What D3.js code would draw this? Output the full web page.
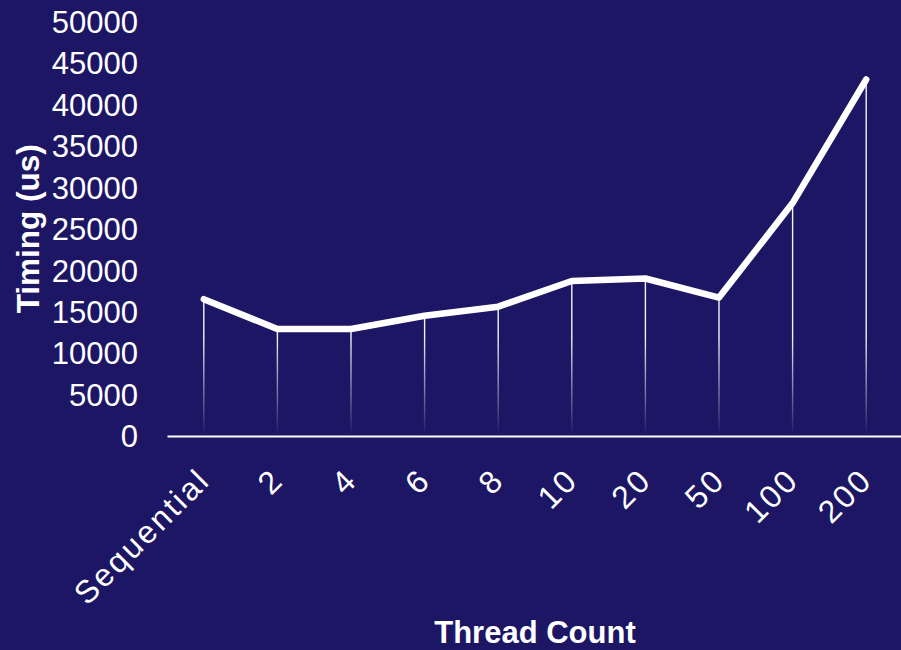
<!DOCTYPE html>
<html>
<head>
<meta charset="utf-8">
<script src="https://cdn.jsdelivr.net/npm/d3@7"></script>
<style>
  html, body { margin: 0; padding: 0; background: #1c1664; }
  svg { display: block; }
  text { font-family: "Liberation Sans", Arial, sans-serif; fill: #ffffff; }
</style>
</head>
<body>
<svg id="chart" width="901" height="650"></svg>
<script>
const categories = ["Sequential", "2", "4", "6", "8", "10", "20", "50", "100", "200"];
const timings = [16500, 12900, 12900, 14500, 15600, 18700, 19000, 16700, 28100, 43000];
const yTicks = [0, 5000, 10000, 15000, 20000, 25000, 30000, 35000, 40000, 45000, 50000];
const xTitle = "Thread Count";
const yTitle = "Timing (us)";

const W = 901, H = 650;
const svg = d3.select("#chart");
svg.append("rect").attr("width", W).attr("height", H).attr("fill", "#1c1664");

const x = d3.scaleBand().domain(categories).range([167, 903]).padding(0);
const y = d3.scaleLinear().domain([0, 50000]).range([436, 21.5]);

const defs = svg.append("defs");
const grad = defs.append("linearGradient")
  .attr("id", "dropGrad")
  .attr("gradientUnits", "userSpaceOnUse")
  .attr("x1", 0).attr("x2", 0)
  .attr("y1", y(0)).attr("y2", y(12000));
grad.append("stop").attr("offset", 0).attr("stop-color", "#ffffff").attr("stop-opacity", 0);
grad.append("stop").attr("offset", 1).attr("stop-color", "#ffffff").attr("stop-opacity", 0.95);

const data = categories.map((c, i) => ({ c, v: timings[i] }));
const cx = d => x(d.c) + x.bandwidth() / 2;

// drop lines
svg.append("g").selectAll("line").data(data).join("line")
  .attr("x1", cx).attr("x2", cx)
  .attr("y1", d => y(d.v)).attr("y2", y(0))
  .attr("stroke", "url(#dropGrad)")
  .attr("stroke-width", 1.4);

// y axis
const yAxis = svg.append("g")
  .attr("transform", "translate(167,0)")
  .call(d3.axisLeft(y).tickValues(yTicks).tickFormat(d3.format("d")).tickSize(0).tickPadding(29));
yAxis.select(".domain").remove();
yAxis.selectAll("text")
  .style("font-family", "'Liberation Sans', Arial, sans-serif")
  .style("font-size", "31px")
  .attr("fill", "#ffffff")
  .attr("dy", "0.35em");

// x axis
const xAxis = svg.append("g")
  .attr("transform", `translate(0,${y(0)})`)
  .call(d3.axisBottom(x).tickSize(0).tickSizeOuter(0));
xAxis.select(".domain").attr("stroke", "#ffffff").attr("stroke-width", 2.2);
xAxis.selectAll("text")
  .style("font-family", "'Liberation Sans', Arial, sans-serif")
  .style("font-size", "32px")
  .style("letter-spacing", "2.5px")
  .attr("fill", "#ffffff")
  .attr("x", 0).attr("y", 0).attr("dy", 0)
  .attr("text-anchor", "end")
  .attr("transform", "translate(8,46) rotate(-45)");

// line
const line = d3.line().x(cx).y(d => y(d.v));
svg.append("path")
  .datum(data)
  .attr("d", line)
  .attr("fill", "none")
  .attr("stroke", "#ffffff")
  .attr("stroke-width", 6.5)
  .attr("stroke-linejoin", "round")
  .attr("stroke-linecap", "round");

// axis titles
svg.append("text")
  .attr("x", (167 + 903) / 2).attr("y", 643)
  .attr("text-anchor", "middle")
  .style("font-size", "31px").style("font-weight", "bold")
  .text(xTitle);

svg.append("text")
  .attr("transform", `translate(39,${(y(0) + y(50000)) / 2}) rotate(-90)`)
  .attr("text-anchor", "middle")
  .style("font-size", "31.5px").style("font-weight", "bold")
  .text(yTitle);
</script>
</body>
</html>
